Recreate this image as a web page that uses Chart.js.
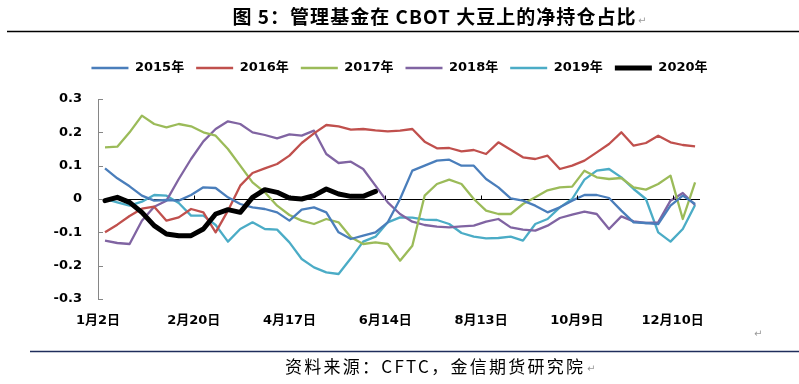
<!DOCTYPE html>
<html>
<head>
<meta charset="utf-8">
<script src="https://cdn.jsdelivr.net/npm/chart.js@4.4.0/dist/chart.umd.min.js"></script>
<style>
  html, body { margin: 0; padding: 0; background: #fff; }
  #wrap { width: 799px; height: 384px; }
</style>
</head>
<body>
<div id="wrap"><canvas id="posChart" width="799" height="384"></canvas></div>
<script>
// 周序号（每周一个点）
const weeks = Array.from({ length: 49 }, (_, i) => i);
const xTickLabels = ["1月2日", "2月20日", "4月17日", "6月14日", "8月13日", "10月9日", "12月10日"];
const seriesNames = ["2015年", "2016年", "2017年", "2018年", "2019年", "2020年"];

// 管理基金净持仓占比
const s2015 = [0.092, 0.062, 0.038, 0.01, -0.005, -0.003, -0.005, 0.012, 0.035, 0.033,
  0.005, -0.015, -0.025, -0.03, -0.04, -0.065, -0.032, -0.025, -0.04, -0.1,
  -0.12, -0.11, -0.1, -0.07, 0.0, 0.085, 0.1, 0.115, 0.118, 0.1,
  0.1, 0.06, 0.035, 0.002, -0.005, -0.02, -0.04, -0.025, -0.005, 0.012,
  0.012, 0.003, -0.035, -0.07, -0.072, -0.075, -0.02, 0.01, -0.015];
const s2016 = [-0.1, -0.077, -0.051, -0.029, -0.023, -0.065, -0.055, -0.03, -0.04, -0.1,
  -0.035, 0.04, 0.078, 0.092, 0.105, 0.13, 0.168, 0.197, 0.222, 0.218,
  0.208, 0.21, 0.206, 0.203, 0.205, 0.21, 0.172, 0.152, 0.153, 0.143,
  0.147, 0.135, 0.17, 0.148, 0.125, 0.12, 0.13, 0.09, 0.1, 0.115,
  0.14, 0.165, 0.2, 0.16, 0.168, 0.19, 0.17, 0.162, 0.158];
const s2017 = [0.155, 0.157, 0.2, 0.25, 0.225, 0.215, 0.225, 0.218, 0.2, 0.19,
  0.15, 0.1, 0.05, 0.02, -0.02, -0.048, -0.065, -0.075, -0.06, -0.07,
  -0.115, -0.135, -0.13, -0.135, -0.185, -0.14, 0.01, 0.045, 0.058, 0.045,
  0.0, -0.035, -0.045, -0.045, -0.015, 0.005, 0.026, 0.035, 0.037, 0.085,
  0.065, 0.06, 0.063, 0.035, 0.028, 0.045, 0.07, -0.06, 0.05];
const s2018 = [-0.125, -0.132, -0.135, -0.065, -0.023, -0.005, 0.06, 0.12, 0.173, 0.21,
  0.233, 0.225, 0.2, 0.192, 0.182, 0.194, 0.19, 0.205, 0.135, 0.108,
  0.112, 0.09, 0.04, -0.01, -0.045, -0.068, -0.078, -0.083, -0.085, -0.082,
  -0.08, -0.068, -0.06, -0.085, -0.092, -0.095, -0.08, -0.057, -0.047, -0.038,
  -0.045, -0.09, -0.052, -0.067, -0.072, -0.07, -0.005, 0.018, -0.018];
const s2019 = [0.0, -0.01, -0.02, -0.008, 0.012, 0.01, -0.012, -0.05, -0.05, -0.078,
  -0.128, -0.09, -0.07, -0.09, -0.092, -0.13, -0.18, -0.205, -0.22, -0.225,
  -0.178, -0.128, -0.113, -0.07, -0.055, -0.056, -0.062, -0.063, -0.075, -0.102,
  -0.113, -0.118, -0.117, -0.113, -0.125, -0.075, -0.06, -0.025, 0.0, 0.058,
  0.085, 0.09, 0.065, 0.03, 0.0, -0.1, -0.128, -0.09, -0.018];
const s2020 = [-0.005, 0.005, -0.01, -0.04, -0.08, -0.105, -0.11, -0.11, -0.09, -0.045,
  -0.032, -0.04, 0.005, 0.028, 0.02, 0.003, 0.0, 0.01, 0.03, 0.015,
  0.008, 0.008, 0.023];

const seriesData = [s2015, s2016, s2017, s2018, s2019, s2020];
const seriesColors = ["#4a7ebb", "#c0504d", "#9bbb59", "#8064a2", "#4bacc6", "#000000"];

const titleText = "图 5：管理基金在 CBOT 大豆上的净持仓占比";
const sourceText = "资料来源：CFTC，金信期货研究院";

const xMin = -0.57, xMax = 48.4, xTickStep = 7.79;
const boldFont = { family: "'DejaVu Sans', 'Noto Sans CJK SC', sans-serif", size: 13, weight: "bold" };

// 按目标宽度写一行文字（调字距）
function fitText(ctx, text, cx, cy, width, font) {
  ctx.font = font;
  ctx.letterSpacing = "0px";
  const w = ctx.measureText(text).width;
  const sp = (width - w) / (text.length - 1);
  ctx.letterSpacing = sp.toFixed(2) + "px";
  ctx.textAlign = "left";
  ctx.textBaseline = "middle";
  ctx.fillText(text, cx - width / 2, cy);
  ctx.letterSpacing = "0px";
}

const decor = {
  id: "decor",
  beforeDraw(chart) {
    const ctx = chart.ctx;
    ctx.save();
    ctx.fillStyle = "#fff";
    ctx.fillRect(0, 0, chart.width, chart.height);
    ctx.restore();
  },
  afterDatasetsDraw(chart) {
    const ctx = chart.ctx;
    const area = chart.chartArea;
    const x = chart.scales.x, y = chart.scales.y;
    ctx.save();
    // y 轴内侧刻度
    ctx.strokeStyle = "#868686";
    ctx.lineWidth = 1;
    y.ticks.forEach(t => {
      const py = Math.round(y.getPixelForValue(t.value)) + 0.5;
      ctx.beginPath();
      ctx.moveTo(area.left, py);
      ctx.lineTo(area.left + 5, py);
      ctx.stroke();
    });
    // 零线上的 x 刻度
    const y0 = Math.round(y.getPixelForValue(0)) + 0.5;
    ctx.strokeStyle = "#000";
    x.ticks.slice(1).forEach(t => {
      const px = Math.round(x.getPixelForValue(t.value)) + 0.5;
      ctx.beginPath();
      ctx.moveTo(px, y0 - 4);
      ctx.lineTo(px, y0);
      ctx.stroke();
    });
    ctx.restore();
  },
  afterDraw(chart) {
    const ctx = chart.ctx;
    ctx.save();
    ctx.fillStyle = "#000";
    fitText(ctx, titleText, 434, 17, 403, "bold 19px 'Noto Sans CJK SC'");
    // 标题下横线
    ctx.strokeStyle = "#000";
    ctx.lineWidth = 1.5;
    ctx.beginPath();
    ctx.moveTo(7, 31.5);
    ctx.lineTo(799, 31.5);
    ctx.stroke();
    // 底部横线
    ctx.strokeStyle = "#1f2d5c";
    ctx.beginPath();
    ctx.moveTo(30, 351.5);
    ctx.lineTo(799, 351.5);
    ctx.stroke();
    fitText(ctx, sourceText, 434, 367, 298, "17px 'Noto Sans CJK SC'");
    // 段落标记
    ctx.fillStyle = "#999";
    ctx.font = "10px 'DejaVu Sans'";
    ctx.textAlign = "left";
    ctx.fillText("↵", 638, 21);
    ctx.fillText("↵", 754, 334);
    ctx.fillText("↵", 587, 369);
    ctx.restore();
  }
};

const datasets = seriesNames.map((name, k) => ({
  label: name,
  data: seriesData[k],
  borderColor: seriesColors[k],
  backgroundColor: seriesColors[k],
  borderWidth: k === 5 ? 5 : 2.3,
  borderCapStyle: k === 5 ? "round" : "butt",
  borderJoinStyle: "round",
  pointRadius: 0,
  tension: 0,
  order: k === 5 ? 0 : 1,
  xAxisID: "x",
  yAxisID: "y"
}));

new Chart(document.getElementById("posChart"), {
  type: "line",
  data: { labels: weeks, datasets: datasets },
  plugins: [decor],
  options: {
    responsive: false,
    animation: false,
    layout: { padding: { top: 49.5, bottom: 45, left: 0, right: 0 } },
    plugins: {
      legend: {
        position: "top",
        labels: {
          usePointStyle: true,
          pointStyle: "line",
          pointStyleWidth: 37,
          padding: 12,
          color: "#000",
          font: boldFont,
          sort: (a, b) => a.datasetIndex - b.datasetIndex
        }
      },
      tooltip: { enabled: false }
    },
    scales: {
      x: {
        type: "linear",
        position: "bottom",
        min: xMin,
        max: xMax,
        afterBuildTicks: axis => {
          axis.ticks = xTickLabels.map((_, k) => ({ value: xMin + k * xTickStep }));
        },
        afterFit: s => { s.height = 40; },
        grid: { display: false, drawTicks: false },
        border: { display: false },
        ticks: {
          autoSkip: false,
          maxRotation: 0,
          padding: 14,
          color: "#000",
          font: boldFont,
          callback: (v, i) => xTickLabels[i]
        }
      },
      xTop: {
        type: "linear",
        position: "top",
        display: true,
        afterFit: s => { s.height = 14.5; },
        grid: { display: false },
        border: { display: false },
        ticks: { display: false }
      },
      y: {
        min: -0.3,
        max: 0.3,
        afterFit: s => { s.width = 98; },
        grid: {
          drawTicks: false,
          color: c => (c.tick && Math.abs(c.tick.value) < 1e-9 ? "#000" : "rgba(0,0,0,0)"),
          lineWidth: 1
        },
        border: { display: true, color: "#868686", width: 1 },
        ticks: {
          stepSize: 0.1,
          padding: 16,
          color: "#000",
          font: boldFont,
          callback: v => String(Math.round(v * 10) / 10)
        }
      },
      yRight: {
        position: "right",
        display: true,
        afterFit: s => { s.width = 99; },
        grid: { display: false },
        border: { display: false },
        ticks: { display: false }
      }
    }
  }
});
</script>
</body>
</html>
